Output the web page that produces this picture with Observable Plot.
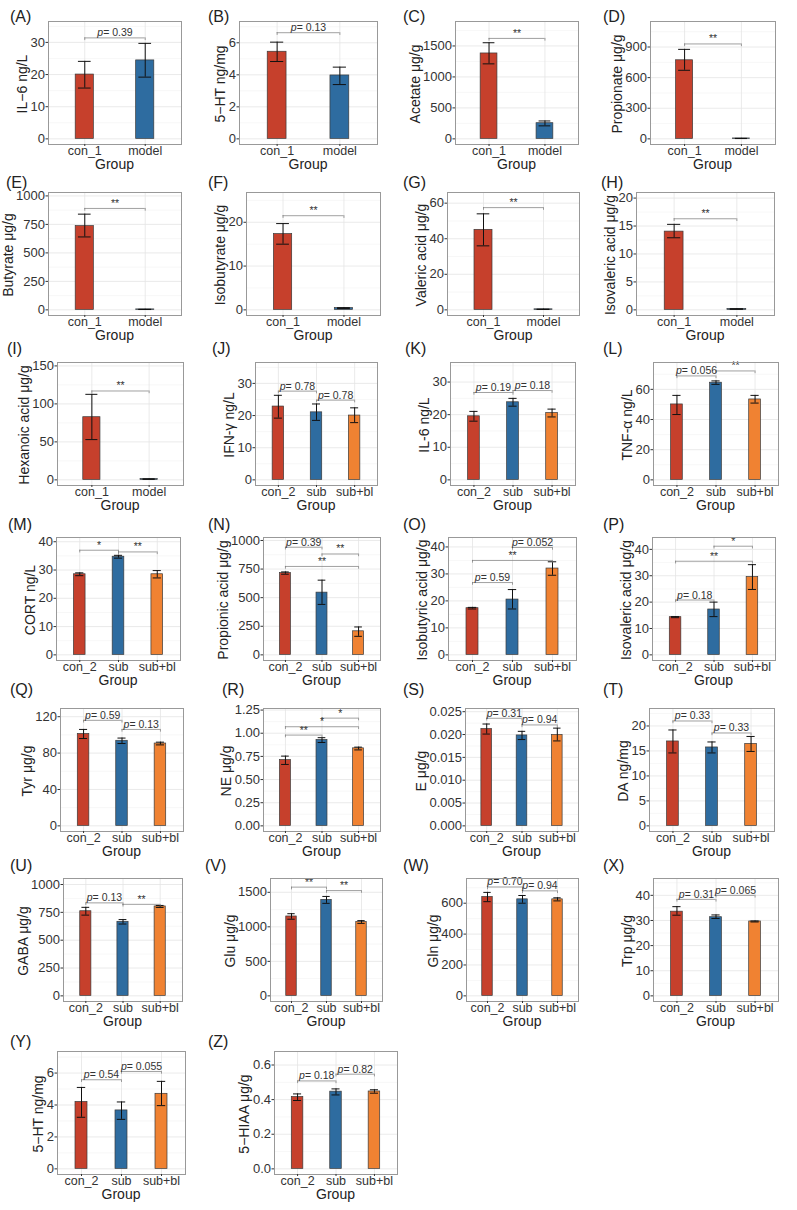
<!DOCTYPE html>
<html><head><meta charset="utf-8">
<script src="https://cdn.jsdelivr.net/npm/d3@7"></script>
<script src="https://cdn.jsdelivr.net/npm/@observablehq/plot@0.6"></script>
<style>
body{margin:0;background:#fff;font-family:"Liberation Sans",Arial,sans-serif;}
#fig{position:relative;width:797px;height:1210px;overflow:hidden;background:#fff;}
.pl{position:absolute;z-index:1;}
.pl svg{overflow:visible;}
.lab{position:absolute;font-size:16px;color:#222;line-height:1;white-space:nowrap;z-index:2;}
.yt{position:absolute;font-size:14px;color:#222;white-space:nowrap;line-height:1;transform:translate(-50%,-50%) rotate(-90deg);z-index:2;}
.xt{position:absolute;font-size:14px;color:#222;white-space:nowrap;line-height:1;transform:translate(-50%,-50%);z-index:2;}
</style></head><body><div id="fig"></div>
<script>
// ---------------- data ----------------
const panelIds = ["A","B","C","D","E","F","G","H","I","J","K","L","M","N","O","P","Q","R","S","T","U","V","W","X","Y","Z"];
const groups1 = ["con_1","model"];
const groups2 = ["con_2","sub","sub+bl"];
const yTitles = ["IL\u22126 ng/L","5\u2212HT ng/mg","Acetate \u03bcg/g","Propionate \u03bcg/g",
  "Butyrate \u03bcg/g","Isobutyrate \u03bcg/g","Valeric acid \u03bcg/g","Isovaleric acid \u03bcg/g",
  "Hexanoic acid \u03bcg/g","IFN-\u03b3 ng/L","IL-6 ng/L","TNF-\u03b1 ng/L",
  "CORT ng/L","Propionic acid \u03bcg/g","Isobutyric acid \u03bcg/g","Isovaleric acid \u03bcg/g",
  "Tyr \u03bcg/g","NE \u03bcg/g","E \u03bcg/g","DA ng/mg",
  "GABA \u03bcg/g","Glu \u03bcg/g","Gln \u03bcg/g","Trp \u03bcg/g",
  "5\u2212HT ng/mg","5\u2212HIAA \u03bcg/g"];
const means = [
  [20.0,24.4],[5.44,3.96],[1379,253],[770,4],
  [735,4],[17.3,0.4],[45,0.3],[14.0,0.15],
  [82.5,1.0],[22.8,21.0,20.0],[19.5,23.8,20.5],[50,64.4,53.3],
  [28.5,34.7,28.5],[715,544,206],[17.3,20.5,32.0],[14.3,17.2,29.5],
  [101,93.5,90.5],[0.71,0.927,0.837],[0.0212,0.0198,0.0199],[16.9,15.7,16.4],
  [760,665,803],[1150,1390,1070],[640,625,625],[33.5,31.3,29.6],
  [4.19,3.66,4.7],[0.415,0.446,0.447]];
const errLo = [
  [15.8,19.2],[4.83,3.39],[1211,210],[672,3],
  [640,3],[15.0,0.3],[36,0.2],[12.9,0.1],
  [53,0.7],[19.2,18.5,17.8],[18.0,22.6,19.3],[43.3,63.3,50.9],
  [28.0,34.2,27.2],[705,441,162],[17.0,17.0,29.5],[14.1,14.5,24.8],
  [96,90.5,89],[0.663,0.90,0.82],[0.0201,0.0189,0.0186],[14.6,14.6,14.9],
  [725,645,794],[1110,1340,1050],[610,600,615],[32.1,30.8,29.4],
  [3.23,3.1,3.96],[0.395,0.427,0.437]];
const errHi = [
  [24.1,29.7],[6.04,4.48],[1552,289],[877,5],
  [840,5],[19.7,0.5],[54,0.4],[15.3,0.2],
  [112.6,1.3],[26.3,23.6,22.4],[21.0,25.0,21.7],[56,65.6,56],
  [29.0,35.2,29.8],[725,653,244],[17.6,24.2,34.5],[14.5,20.0,34.2],
  [106,96.5,92],[0.753,0.952,0.85],[0.0223,0.0207,0.0214],[19.2,16.8,17.9],
  [795,685,812],[1190,1440,1090],[670,650,635],[35.5,32.2,29.8],
  [5.1,4.19,5.48],[0.433,0.462,0.457]];
// [from group, to group, bracket height, label]
const brackets = [
  [[1,2,31.4,"p= 0.39"]],[[1,2,6.63,"p= 0.13"]],[[1,2,1622,"**"]],[[1,2,930,"**"]],
  [[1,2,890,"**"]],[[1,2,21.5,"**"]],[[1,2,57.5,"**"]],[[1,2,16.3,"**"]],
  [[1,2,117,"**"]],[[1,2,27.6,"p= 0.78"],[2,3,24.8,"p= 0.78"]],[[1,2,26.8,"p= 0.19"],[2,3,27.4,"p= 0.18"]],[[1,2,68.9,"p= 0.056"],[2,3,72.2,"**"]],
  [[1,2,37.0,"*"],[2,3,36.4,"**"]],[[1,2,941,"p= 0.39"],[2,3,882,"**"],[1,3,773,"**"]],[[1,2,26.8,"p= 0.59"],[1,3,35.0,"**"],[2,3,39.8,"p= 0.052"]],[[1,2,20.8,"p= 0.18"],[1,3,35.5,"**"],[2,3,41.2,"*"]],
  [[1,2,116,"p= 0.59"],[2,3,106,"p= 0.13"]],[[1,2,0.98,"**"],[1,3,1.07,"*"],[2,3,1.163,"*"]],[[1,2,0.02356,"p= 0.31"],[2,3,0.0221,"p= 0.94"]],[[1,2,21.0,"p= 0.33"],[2,3,18.6,"p= 0.33"]],
  [[1,2,835,"p= 0.13"],[2,3,822,"**"]],[[1,2,1575,"**"],[2,3,1525,"**"]],[[1,2,705,"p= 0.70"],[2,3,680,"p= 0.94"]],[[1,2,38.4,"p= 0.31"],[2,3,40.0,"p= 0.065"]],
  [[1,2,5.58,"p= 0.54"],[2,3,6.1,"p= 0.055"]],[[1,2,0.508,"p= 0.18"],[2,3,0.547,"p= 0.82"]]];
const yTicks = [
  [0,10,20,30],[0,2,4,6],[0,500,1000,1500],[0,300,600,900],
  [0,250,500,750,1000],[0,10,20],[0,20,40,60],[0,5,10,15,20],
  [0,50,100,150],[0,10,20,30],[0,10,20,30],[0,20,40,60],
  [0,10,20,30,40],[0,250,500,750,1000],[0,10,20,30,40],[0,10,20,30,40],
  [0,40,80,120],[0,0.25,0.5,0.75,1,1.25],[0,0.005,0.01,0.015,0.02,0.025],[0,5,10,15,20],
  [0,250,500,750,1000],[0,500,1000,1500],[0,200,400,600],[0,10,20,30,40],
  [0,2,4,6],[0,0.2,0.4,0.6]];
const tickDecimals = [0,0,0,0, 0,0,0,0, 0,0,0,0, 0,0,0,0, 0,2,3,0, 0,0,0,0, 0,1];

// ---------------- layout ----------------
const yMax = [36.5,7.33,1895,1150, 1030,26.8,66,21, 154.5,36.5,36,77.8, 41.5,1026,43.5,44.5, 129,1.267,0.0257,23.5, 1054,1700,760,46.7, 7.35,0.678];
const frameL = [48,239,455,650, 48,246,447,636, 57,255,450,653, 56,263,448,652, 60,263,465,649, 63,270,466,653, 57,274];
const frameR = [181,377,578,775, 181,380,579,774, 183,377,575,778, 180,380,576,775, 183,380,578,774, 182,382,578,778, 185,397];
const labelX = [10,208,403,603, 6,208,403,601, 7,212,405,603, 8,208,403,603, 10,222,403,603, 10,205,403,603, 10,208];
const rowTop = [21,192,362,537,708,878,1051];
const labelBase = [22,188,354,530,695,871,1047];
const colors = ["#C6402C","#2E6CA0","#F08232"];

// ---------------- drawing ----------------
const fig = document.getElementById("fig");
const ctx = document.createElement("canvas").getContext("2d");
ctx.font = '13px "Liberation Sans"';
const FH = 123, MT = 4, MB = 18, ML = 44, MR = 4;
const texts = [];

function addText(cls, txt, x, y) {
  const d = document.createElement("div");
  d.className = cls; d.textContent = txt;
  d.style.left = x + "px"; d.style.top = y + "px";
  texts.push(d);
}

panelIds.forEach((id, p) => {
  const row = Math.floor(p / 4);
  const groups = p < 9 ? groups1 : groups2;
  const n = groups.length;
  const idx = d3.range(1, n + 1);
  const top = yMax[p], bot = -0.048 * top;
  const fL = frameL[p], fR = frameR[p], fT = rowTop[row], fB = fT + FH;
  const dec = tickDecimals[p];
  const fmt = d => d.toFixed(dec);
  const ticks = yTicks[p];
  const step = ticks[1] - ticks[0];
  const minor = [];
  for (let k = -1; k < ticks.length + 2; k++) {
    const v = ticks[0] + step * (k + 0.5);
    if (v >= bot && v <= top) minor.push(v);
  }
  const bars = idx.map(i => ({i, m: means[p][i-1], lo: errLo[p][i-1], hi: errHi[p][i-1]}));
  const br = brackets[p].map(([a, c, y, label]) => ({a, c, y, label, mid: (a + c) / 2}));
  const tip = 0.022 * (top - bot);
  const width = ML + (fR - fL) + MR, height = MT + FH + MB;
  const svg = Plot.plot({
    width, height, marginLeft: ML, marginRight: MR, marginTop: MT, marginBottom: MB,
    style: {background: "transparent", overflow: "visible", fontFamily: '"Liberation Sans", Arial, sans-serif'},
    x: {type: "linear", domain: [0.4, n + 0.6]},
    y: {type: "linear", domain: [bot, top]},
    marks: [
      Plot.gridY(minor, {stroke: "#f2f2f2", strokeOpacity: 1, strokeWidth: 0.6}),
      Plot.gridY(ticks, {stroke: "#e4e4e4", strokeOpacity: 1, strokeWidth: 0.8}),
      Plot.gridX(idx, {stroke: "#e4e4e4", strokeOpacity: 1, strokeWidth: 0.8}),
      Plot.rectY(bars, {x1: d => d.i - 0.15, x2: d => d.i + 0.15, y1: () => 0, y2: "m",
        fill: d => colors[d.i - 1], stroke: "#3a3a3a", strokeWidth: 0.7}),
      Plot.ruleX(bars, {x: "i", y1: "lo", y2: "hi", stroke: "#111", strokeWidth: 1}),
      Plot.ruleY(bars, {x1: d => d.i - 0.105, x2: d => d.i + 0.105, y: "hi", stroke: "#111", strokeWidth: 1}),
      Plot.ruleY(bars, {x1: d => d.i - 0.105, x2: d => d.i + 0.105, y: "lo", stroke: "#111", strokeWidth: 1}),
      Plot.ruleY(br, {x1: "a", x2: "c", y: "y", stroke: "#777", strokeWidth: 0.7}),
      Plot.ruleX(br, {x: "a", y1: "y", y2: d => d.y - tip, stroke: "#777", strokeWidth: 0.7}),
      Plot.ruleX(br, {x: "c", y1: "y", y2: d => d.y - tip, stroke: "#777", strokeWidth: 0.7}),
      Plot.text(br, {x: "mid", y: "y", text: "label", lineAnchor: "bottom", dy: -1.5,
        fontSize: 10.5, fill: "#333"}),
      Plot.frame({stroke: "#999", strokeWidth: 1}),
      Plot.axisY({ticks, tickFormat: fmt, tickSize: 2.5, tickPadding: 1, fontSize: 13,
        label: null, color: "#333"}),
      Plot.axisX({ticks: idx, tickFormat: i => groups[Math.round(i) - 1], tickSize: 2, tickPadding: 0,
        fontSize: 12.5, label: null, color: "#333"})
    ]
  });
  // italic "p" in p-value labels
  d3.select(svg).selectAll("text").each(function() {
    const s = this.textContent;
    if (s.startsWith("p= ")) {
      const ts = this.querySelector("tspan");
      const host = ts || this;
      host.textContent = "";
      d3.select(host).append("tspan").attr("font-style", "italic").text("p");
      d3.select(host).append("tspan").text(s.slice(1));
    }
  });
  const div = document.createElement("div");
  div.className = "pl";
  div.style.left = (fL - ML) + "px";
  div.style.top = (fT - MT) + "px";
  div.style.width = width + "px";
  div.appendChild(svg);
  fig.appendChild(div);

  const tickW = d3.max(ticks, v => ctx.measureText(fmt(v)).width);
  addText("yt", yTitles[p], fL - 3.5 - tickW - 8, fT + FH / 2 + 1);
  addText("xt", "Group", (fL + fR) / 2, fB + 20);
  addText("lab", "(" + id + ")", labelX[p], labelBase[row] - 13.5);
});
texts.forEach(d => fig.appendChild(d));
</script></body></html>
